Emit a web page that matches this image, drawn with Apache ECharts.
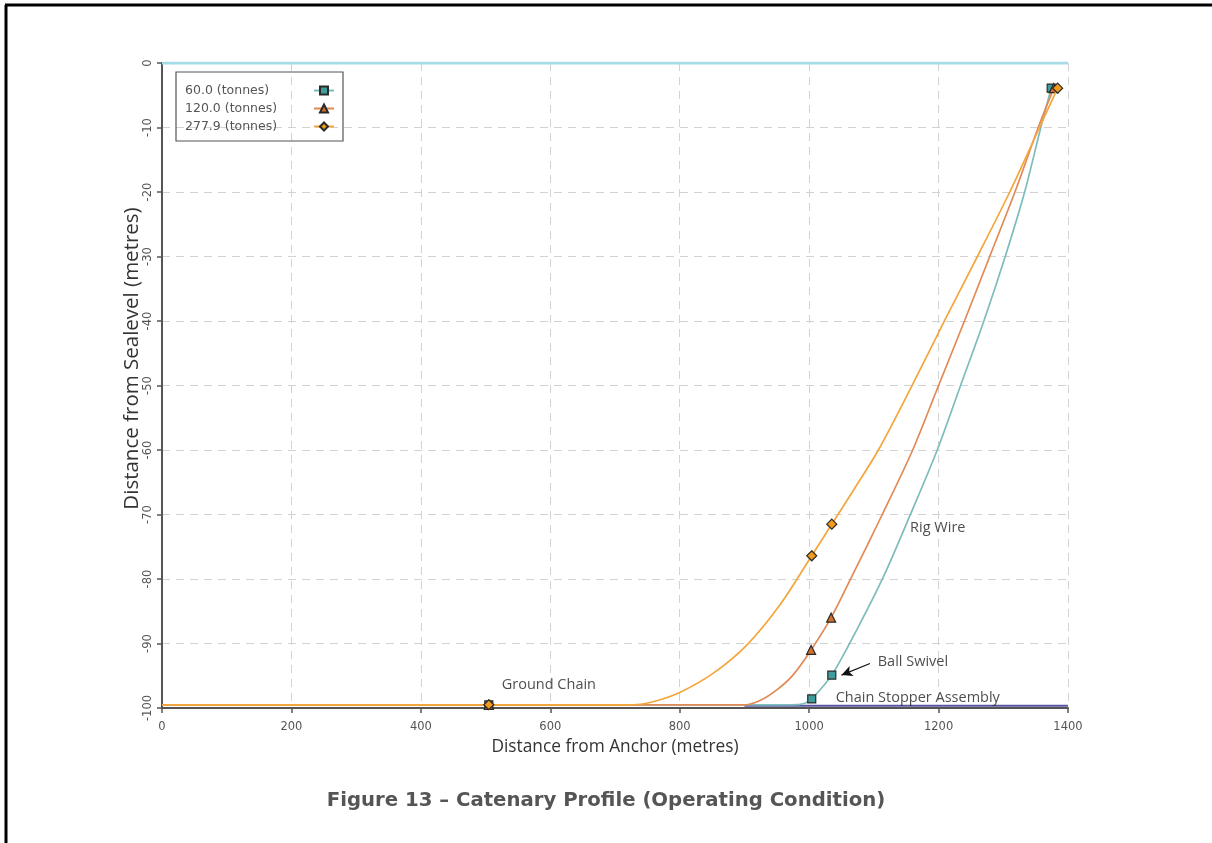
<!DOCTYPE html>
<html>
<head>
<meta charset="utf-8">
<script src="https://cdn.jsdelivr.net/npm/echarts@6/dist/echarts.min.js"></script>
<style>
  html, body { margin: 0; padding: 0; background: #ffffff; }
  #chart { width: 1212px; height: 843px; }
</style>
</head>
<body>
<div id="chart"></div>
<script>
// Catenary profiles for three line tensions (x: distance from anchor, y: depth)
const seriesNames = ['60.0 (tonnes)', '120.0 (tonnes)', '277.9 (tonnes)'];

const x60 = [0, 505, 970, 986, 995, 1004, 1035, 1075, 1115, 1156, 1198, 1234, 1270, 1303, 1333, 1358, 1374];
const y60 = [-99.5, -99.5, -99.5, -99.45, -99.2, -98.6, -94.9, -87.6, -79.6, -70.1, -60, -50, -40, -30, -20, -10, -3.9];
const m60 = [1, 5, 6, 16];

const x120 = [0, 505, 901, 925, 950, 975, 1003, 1034, 1066, 1113, 1160, 1200, 1240, 1279, 1318, 1354, 1378];
const y120 = [-99.5, -99.5, -99.5, -98.8, -97.2, -94.9, -91, -86, -79.6, -70, -60, -50, -40, -30, -20, -10, -3.9];
const m120 = [1, 6, 7, 16];

const x278 = [0, 505, 728, 760, 800, 852, 904, 955, 1004, 1035, 1070, 1107, 1158, 1210, 1260, 1310, 1356, 1384];
const y278 = [-99.5, -99.5, -99.5, -99.0, -97.6, -94.6, -90.2, -84, -76.4, -71.5, -66, -60, -50.2, -39.8, -30, -20, -10, -3.9];
const m278 = [1, 8, 9, 17];

// sea surface and seabed reference lines
const seaLevelX = [0, 1400];
const seaLevelY = [0, 0];
const seabedX = [900, 1400];
const seabedY = [-99.65, -99.65];

// annotation labels [x, y, text]
const notes = [
  [1156, -72.1, 'Rig Wire'],
  [1106, -92.9, 'Ball Swivel'],
  [1041, -98.4, 'Chain Stopper Assembly'],
  [525, -96.4, 'Ground Chain']
];
const arrowFrom = [1094, -93.1];
const arrowTo = [1050, -94.9];

const xTicks = { min: 0, max: 1400, interval: 200 };
const yTicks = { min: -100, max: 0, interval: 10 };

const colors = ['#7cbcbc', '#e28a55', '#f4a63c'];
const markerFill = ['#3f9c9c', '#d4702a', '#f29a1c'];
const markerShape = ['rect', 'triangle', 'diamond'];
const markerSize = [8, 9, 10];

const zip = (xs, ys) => xs.map((x, i) => [x, ys[i]]);

const curves = [[x60, y60, m60], [x120, y120, m120], [x278, y278, m278]];

const lineSeries = curves.map((c, k) => ({
  name: seriesNames[k],
  type: 'line',
  data: zip(c[0], c[1]),
  smooth: 0.3,
  symbol: markerShape[k],
  symbolSize: (v, p) => c[2].includes(p.dataIndex) ? markerSize[k] : 0,
  showSymbol: true,
  lineStyle: { color: colors[k], width: 1.7 },
  itemStyle: { color: markerFill[k], borderColor: '#2a2a2a', borderWidth: 1.2 },
  z: 3 + k
}));

const axisFont = 'DejaVu Sans, Verdana, sans-serif';
const labelFont = '"Open Sans", "Noto Sans", sans-serif';

const option = {
  animation: false,
  backgroundColor: '#ffffff',
  title: {
    text: 'Figure 13 – Catenary Profile (Operating Condition)',
    left: 'center',
    top: 786,
    textStyle: { fontFamily: axisFont, fontWeight: 'bold', fontSize: 19.7, color: '#555555' }
  },
  legend: {
    orient: 'vertical',
    left: 176,
    top: 72,
    align: 'right',
    data: seriesNames,
    itemWidth: 20,
    itemHeight: 10,
    itemGap: 5,
    padding: [12, 8, 8, 9],
    borderColor: '#555555',
    borderWidth: 1.2,
    borderRadius: 0,
    formatter: name => '{t|' + name + '}',
    textStyle: {
      rich: { t: { fontFamily: axisFont, fontSize: 12.5, color: '#555555', width: 124, align: 'left' } }
    }
  },
  grid: { left: 162, right: 144, top: 63, bottom: 135, containLabel: false },
  xAxis: {
    type: 'value',
    min: xTicks.min, max: xTicks.max, interval: xTicks.interval,
    name: 'Distance from Anchor (metres)',
    nameLocation: 'middle',
    nameGap: 31,
    nameMoveOverlap: false,
    nameTextStyle: { fontFamily: labelFont, fontSize: 17.3, color: '#333333' },
    axisLine: { show: true, onZero: false, lineStyle: { color: '#555555', width: 2 } },
    axisTick: { show: true, length: 5, lineStyle: { color: '#555555', width: 1.5 } },
    axisLabel: { fontFamily: axisFont, fontSize: 11.5, color: '#555555', margin: 13, formatter: v => String(v) },
    splitLine: { show: true, lineStyle: { color: '#d2d2d2', type: [8, 6], width: 1 } }
  },
  yAxis: {
    type: 'value',
    min: yTicks.min, max: yTicks.max, interval: yTicks.interval,
    name: 'Distance from Sealevel (metres)',
    nameLocation: 'middle',
    nameGap: 19,
    nameMoveOverlap: false,
    nameTextStyle: { fontFamily: labelFont, fontSize: 20.5, color: '#333333', padding: [0, 0, 0, 54] },
    axisLine: { show: true, onZero: false, lineStyle: { color: '#555555', width: 2 } },
    axisTick: { show: true, length: 5, lineStyle: { color: '#555555', width: 1.5 } },
    axisLabel: { fontFamily: axisFont, fontSize: 11.5, color: '#555555', rotate: 90, margin: 8, formatter: v => String(v) },
    splitLine: { show: true, lineStyle: { color: '#d2d2d2', type: [8, 6], width: 1 } }
  },
  series: [
    {
      name: 'sea level',
      type: 'line',
      data: zip(seaLevelX, seaLevelY),
      symbol: 'none',
      lineStyle: { color: '#a6dce6', width: 3 },
      z: 2
    },
    {
      name: 'seabed',
      type: 'line',
      data: zip(seabedX, seabedY),
      symbol: 'none',
      lineStyle: { color: '#5a53a3', width: 2 },
      z: 2
    },
    ...lineSeries,
    {
      name: 'notes',
      type: 'scatter',
      data: notes,
      symbolSize: 0,
      z: 10,
      label: {
        show: true,
        position: 'right',
        distance: 0,
        formatter: p => p.data[2],
        fontFamily: labelFont,
        fontSize: 14.5,
        color: '#222222'
      },
      markLine: {
        silent: true,
        symbol: ['none', 'arrow'],
        symbolSize: [8, 11],
        label: { show: false },
        lineStyle: { color: '#111111', width: 1.2, type: 'solid' },
        data: [[{ coord: arrowFrom }, { coord: arrowTo }]]
      }
    }
  ],
  graphic: [
    { type: 'line', shape: { x1: 6, y1: 5, x2: 6, y2: 843 }, style: { stroke: '#000000', lineWidth: 3 } },
    { type: 'line', shape: { x1: 5, y1: 5, x2: 1212, y2: 5 }, style: { stroke: '#000000', lineWidth: 3 } }
  ]
};

const chart = echarts.init(document.getElementById('chart'), null, { renderer: 'canvas' });
chart.setOption(option);
</script>
</body>
</html>
